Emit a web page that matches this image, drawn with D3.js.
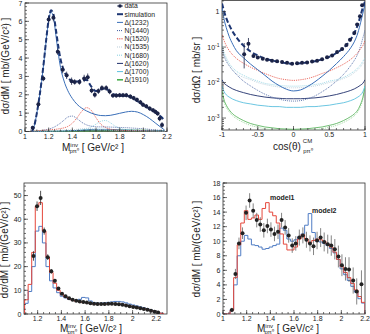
<!DOCTYPE html>
<html>
<head>
<meta charset="utf-8">
<script src="https://cdn.jsdelivr.net/npm/d3@7"></script>
<style>
body { margin: 0; background: #fff; }
svg { display: block; font-family: "Liberation Sans", Arial, sans-serif; }
</style>
</head>
<body>
<svg id="chart" width="370" height="334"></svg>
<script>
// ---------- data: invariant mass spectrum (top left) ----------
var massData = [1.065, 1.113, 1.155, 1.2, 1.24, 1.277, 1.318, 1.352, 1.394, 1.42, 1.46, 1.5, 1.53, 1.563, 1.59, 1.62, 1.65, 1.686, 1.715, 1.743, 1.771, 1.8, 1.828, 1.856, 1.89, 1.918, 1.946, 1.975, 1.997, 2.025, 2.054, 2.082, 2.102, 2.121, 2.138, 2.158];
var sigmaData = [0.21, 1.48, 2.89, 6.1, 6.2, 4.35, 3.37, 3.06, 2.74, 2.7, 2.7, 2.89, 2.96, 2.24, 2.0, 2.2, 2.37, 2.37, 2.18, 1.96, 1.96, 1.98, 1.98, 1.98, 1.9, 1.82, 1.73, 1.6, 1.46, 1.37, 1.25, 1.16, 1.07, 0.98, 0.71, 0.36];
var sigmaErr = [0.1, 0.15, 0.15, 0.2, 0.2, 0.18, 0.2, 0.2, 0.2, 0.15, 0.15, 0.2, 0.2, 0.15, 0.15, 0.15, 0.15, 0.15, 0.15, 0.12, 0.12, 0.12, 0.12, 0.12, 0.12, 0.12, 0.12, 0.12, 0.12, 0.12, 0.12, 0.12, 0.12, 0.12, 0.15, 0.15];

var massGrid = [1.06, 1.08, 1.10, 1.12, 1.14, 1.16, 1.18, 1.20, 1.22, 1.24, 1.26, 1.28, 1.30, 1.33, 1.36, 1.40, 1.44, 1.48, 1.52, 1.56, 1.60, 1.64, 1.68, 1.72, 1.76, 1.80, 1.85, 1.90, 1.95, 2.00, 2.05, 2.10, 2.15, 2.18];
var simMass   = [0, 0.35, 1.0, 1.8, 2.75, 3.85, 5.05, 6.1, 6.6, 6.4, 5.6, 4.7, 3.95, 3.3, 2.95, 2.75, 2.72, 2.8, 2.8, 2.45, 2.2, 2.3, 2.35, 2.15, 2.0, 1.95, 1.95, 1.85, 1.65, 1.45, 1.25, 1.05, 0.8, 0.6];
var d1232Mass = [0, 0.35, 1.0, 1.8, 2.72, 3.8, 5.0, 6.05, 6.5, 6.25, 5.3, 4.3, 3.5, 2.75, 2.25, 1.8, 1.48, 1.27, 1.12, 1.0, 0.92, 0.87, 0.86, 0.88, 0.93, 0.99, 1.06, 1.1, 1.06, 0.92, 0.72, 0.47, 0.22, 0.08];
var n1440Mass = [0, 0.01, 0.02, 0.03, 0.05, 0.07, 0.1, 0.13, 0.17, 0.22, 0.29, 0.37, 0.46, 0.62, 0.78, 0.84, 0.7, 0.5, 0.36, 0.29, 0.26, 0.25, 0.25, 0.24, 0.23, 0.22, 0.21, 0.19, 0.17, 0.15, 0.12, 0.09, 0.06, 0.04];
var n1520Mass = [0, 0.02, 0.04, 0.05, 0.06, 0.07, 0.08, 0.09, 0.1, 0.11, 0.12, 0.14, 0.16, 0.2, 0.27, 0.45, 0.75, 1.1, 1.3, 1.15, 0.75, 0.4, 0.22, 0.13, 0.09, 0.07, 0.05, 0.04, 0.035, 0.03, 0.025, 0.02, 0.015, 0.01];
var n1535Mass = [0, 0, 0.01, 0.01, 0.02, 0.02, 0.03, 0.03, 0.04, 0.04, 0.05, 0.05, 0.06, 0.07, 0.08, 0.1, 0.12, 0.15, 0.17, 0.16, 0.13, 0.1, 0.08, 0.07, 0.06, 0.05, 0.05, 0.04, 0.04, 0.03, 0.03, 0.02, 0.02, 0.01];
var n1680Mass = [0, 0, 0, 0, 0, 0, 0.01, 0.01, 0.01, 0.01, 0.01, 0.02, 0.02, 0.02, 0.03, 0.04, 0.06, 0.09, 0.14, 0.25, 0.4, 0.55, 0.6, 0.48, 0.3, 0.18, 0.11, 0.08, 0.06, 0.05, 0.04, 0.03, 0.02, 0.01];
var d1620Mass = [0, 0, 0, 0, 0, 0.01, 0.01, 0.01, 0.01, 0.01, 0.01, 0.02, 0.02, 0.02, 0.03, 0.04, 0.05, 0.06, 0.07, 0.08, 0.08, 0.08, 0.08, 0.08, 0.08, 0.07, 0.07, 0.06, 0.06, 0.05, 0.04, 0.03, 0.02, 0.01];
var d1700Mass = [0, 0, 0, 0, 0, 0, 0.01, 0.01, 0.01, 0.01, 0.02, 0.02, 0.02, 0.03, 0.04, 0.05, 0.06, 0.08, 0.1, 0.11, 0.12, 0.12, 0.12, 0.11, 0.1, 0.09, 0.08, 0.07, 0.06, 0.05, 0.04, 0.03, 0.02, 0.01];
var d1910Mass = [0, 0, 0, 0, 0, 0, 0, 0, 0, 0, 0, 0, 0, 0, 0.01, 0.01, 0.01, 0.02, 0.02, 0.02, 0.03, 0.03, 0.04, 0.04, 0.05, 0.05, 0.05, 0.05, 0.05, 0.05, 0.04, 0.04, 0.03, 0.02];

// ---------- data: angular distribution (top right) ----------
var cosData = [-0.69, -0.63, -0.56, -0.5, -0.43, -0.37, -0.3, -0.23, -0.16, -0.09, -0.02, 0.05, 0.12, 0.19, 0.26, 0.33, 0.4, 0.47, 0.54, 0.61, 0.68, 0.74, 0.79, 0.85, 0.89, 0.93, 0.96];
var angData = [0.063, 0.124, 0.056, 0.051, 0.047, 0.044, 0.041, 0.04, 0.038, 0.036, 0.034, 0.035, 0.036, 0.037, 0.039, 0.041, 0.045, 0.052, 0.058, 0.072, 0.088, 0.114, 0.16, 0.25, 0.43, 0.74, 1.5];
var angLo = [0.025, 0.09, 0.05, 0.047, 0.044, 0.041, 0.039, 0.038, 0.036, 0.034, 0.032, 0.033, 0.034, 0.035, 0.037, 0.039, 0.042, 0.049, 0.054, 0.067, 0.082, 0.106, 0.15, 0.23, 0.4, 0.68, 1.35];
var angHi = [0.13, 0.18, 0.062, 0.055, 0.05, 0.047, 0.043, 0.042, 0.04, 0.038, 0.036, 0.037, 0.038, 0.039, 0.041, 0.043, 0.048, 0.055, 0.062, 0.077, 0.094, 0.122, 0.17, 0.27, 0.46, 0.8, 1.65];

var cosGrid = [-1, -0.97, -0.94, -0.9, -0.85, -0.8, -0.7, -0.6, -0.5, -0.4, -0.3, -0.2, -0.1, 0, 0.1, 0.2, 0.3, 0.4, 0.5, 0.6, 0.7, 0.8, 0.85, 0.9, 0.94, 0.97, 1];
var simAng   = [1.7, 1.0, 0.65, 0.42, 0.27, 0.19, 0.11, 0.075, 0.058, 0.048, 0.042, 0.038, 0.035, 0.034, 0.035, 0.037, 0.04, 0.045, 0.053, 0.068, 0.095, 0.165, 0.25, 0.43, 0.8, 1.3, 1.9];
var d1232Ang = [1.4, 0.6, 0.35, 0.2, 0.12, 0.08, 0.05, 0.033, 0.023, 0.016, 0.011, 0.0082, 0.0065, 0.0058, 0.0062, 0.0078, 0.0105, 0.015, 0.022, 0.034, 0.054, 0.095, 0.14, 0.25, 0.5, 0.9, 1.6];
var n1520Ang = [0.22, 0.15, 0.11, 0.08, 0.06, 0.048, 0.035, 0.027, 0.022, 0.018, 0.015, 0.013, 0.012, 0.0115, 0.012, 0.013, 0.015, 0.018, 0.021, 0.026, 0.033, 0.045, 0.055, 0.07, 0.09, 0.11, 0.15];
var n1680Ang = [0.12, 0.07, 0.05, 0.035, 0.026, 0.021, 0.016, 0.013, 0.011, 0.0095, 0.0088, 0.0083, 0.008, 0.0079, 0.008, 0.0083, 0.0088, 0.0095, 0.011, 0.012, 0.014, 0.018, 0.021, 0.026, 0.032, 0.04, 0.05];
var n1535Ang = [0.1, 0.06, 0.042, 0.03, 0.022, 0.018, 0.014, 0.012, 0.01, 0.0088, 0.008, 0.0075, 0.0072, 0.0071, 0.0072, 0.0075, 0.008, 0.0088, 0.01, 0.011, 0.013, 0.016, 0.019, 0.023, 0.028, 0.034, 0.042];
var n1440Ang = [0.09, 0.055, 0.04, 0.03, 0.022, 0.017, 0.011, 0.008, 0.006, 0.0047, 0.0039, 0.0034, 0.0031, 0.003, 0.0031, 0.0035, 0.0042, 0.0055, 0.0075, 0.011, 0.017, 0.03, 0.042, 0.065, 0.11, 0.18, 0.3];
var d1620Ang = [0.012, 0.0095, 0.0085, 0.0075, 0.0066, 0.006, 0.0052, 0.0046, 0.0042, 0.0039, 0.0037, 0.0036, 0.0035, 0.0035, 0.0035, 0.0036, 0.0037, 0.0039, 0.0042, 0.0046, 0.0052, 0.006, 0.0066, 0.0075, 0.0085, 0.0095, 0.012];
var d1700Ang = [0.008, 0.0055, 0.0045, 0.0039, 0.0034, 0.0031, 0.0027, 0.0025, 0.0023, 0.0022, 0.0021, 0.0021, 0.002, 0.002, 0.002, 0.0021, 0.0021, 0.0022, 0.0023, 0.0025, 0.0027, 0.0031, 0.0034, 0.0039, 0.0045, 0.0055, 0.008];
var d1910Ang = [0.006, 0.0032, 0.0023, 0.0017, 0.0013, 0.0011, 0.00085, 0.0007, 0.00062, 0.00056, 0.00053, 0.0005, 0.00049, 0.00048, 0.00049, 0.0005, 0.00053, 0.00056, 0.00062, 0.0007, 0.00085, 0.0011, 0.0013, 0.0017, 0.0025, 0.0038, 0.008];
var d1910bAng = [0.0053, 0.0028, 0.002, 0.0015, 0.00115, 0.00097, 0.00075, 0.00062, 0.00055, 0.0005, 0.00047, 0.00044, 0.00043, 0.00042, 0.00043, 0.00044, 0.00047, 0.0005, 0.00055, 0.00062, 0.00075, 0.00097, 0.00115, 0.0015, 0.0022, 0.0034, 0.0072];

// ---------- data: histograms (bottom left), bins of 0.03 from 1.09 ----------
var bin3Start = 1.09, binWidth = 0.03;
var red3  = [6, 12.5, 26, 45.5, 47, 35, 24, 17.5, 13, 10, 8.3, 7.2, 6.4, 5.8, 5.4, 5.1, 4.9, 4.7, 4.4, 4.2, 4.1, 4.1, 4.1, 4.2, 4.3, 4.3, 4.2, 4.0, 3.7, 3.4, 3.1, 2.8, 2.5, 2.2, 1.9, 1.5, 1.1, 0.7, 0.3];
var blue3 = [4.5, 9.5, 20, 35, 37, 30, 20, 14, 11, 9, 7.5, 6.8, 6.2, 5.8, 5.7, 6.2, 7.0, 6.8, 5.5, 4.8, 4.6, 4.6, 4.7, 4.9, 5.1, 5.3, 5.3, 5.1, 4.7, 4.2, 3.8, 3.4, 3.0, 2.6, 2.2, 1.7, 1.2, 0.7, 0.3];
var mass3 = [1.165, 1.195, 1.225, 1.255, 1.285, 1.315, 1.345, 1.375, 1.405, 1.435, 1.465, 1.495, 1.525, 1.555, 1.585, 1.615, 1.645, 1.675, 1.705, 1.735, 1.765, 1.795, 1.825, 1.855, 1.885, 1.915, 1.945, 1.975, 2.005, 2.035, 2.065, 2.095, 2.125, 2.155, 2.185, 2.215];
var data3 = [24.5, 45.5, 49, 35, 24, 18, 14, 10.8, 8.6, 7.5, 6.6, 6, 5.6, 5.3, 5.1, 4.9, 4.5, 4.3, 4.2, 4.2, 4.2, 4.3, 4.3, 4.2, 4.1, 3.9, 3.6, 3.3, 3.0, 2.7, 2.4, 2.1, 1.8, 1.4, 1.0, 0.6];
var err3  = [2, 2, 3, 1.5, 1.2, 1, 0.8, 0.6, 0.5, 0.4, 0.4, 0.3, 0.3, 0.3, 0.3, 0.3, 0.3, 0.3, 0.3, 0.3, 0.3, 0.3, 0.3, 0.3, 0.3, 0.3, 0.3, 0.3, 0.3, 0.3, 0.3, 0.3, 0.3, 0.3, 0.3, 0.3];

// ---------- data: models (bottom right), bins of 0.03 from 1.00 ----------
var bin4Start = 1.0;
var model1 = [0, 0, 0.5, 5, 9.5, 12.5, 14.2, 13, 13.2, 13.6, 13, 14.5, 15.3, 14, 13.5, 12.5, 11, 9.6, 8.8, 8.8, 9.2, 10.3, 10.9, 10.3, 9.8, 10.1, 10.3, 10.2, 10, 9.6, 9.2, 8.5, 7.5, 6.5, 5.7, 5, 4.2, 3.3, 2.4, 1.6];
var model2 = [0, 0, 0.6, 4, 8, 10, 10.8, 10.3, 9.5, 9.4, 9.2, 8.9, 9.0, 9.2, 9.4, 9.6, 11.8, 11.5, 10.3, 10.0, 10.2, 10.6, 11.0, 12.2, 13.8, 11.2, 10.0, 9.9, 9.7, 9.4, 9.0, 8.4, 7.5, 6.2, 5.4, 4.6, 3.8, 3.0, 2.1, 1.5];
var mass4 = [1.075, 1.105, 1.135, 1.165, 1.195, 1.225, 1.255, 1.285, 1.315, 1.345, 1.375, 1.405, 1.435, 1.465, 1.495, 1.525, 1.555, 1.585, 1.615, 1.645, 1.675, 1.705, 1.735, 1.765, 1.795, 1.825, 1.855, 1.885, 1.915, 1.945, 1.975, 2.005, 2.035, 2.065, 2.1, 2.13, 2.17];
var data4 = [0.55, 5.5, 9.7, 11.1, 13.9, 15.6, 14.2, 12.9, 12.3, 11.5, 12.1, 11.6, 11.0, 11.3, 12.9, 11.9, 10.8, 9.4, 9.7, 10.5, 10.8, 10.2, 9.7, 9.3, 10.1, 10.5, 9.9, 9.6, 9.4, 8.9, 7.9, 6.7, 6.2, 6.1, 4.6, 3.1, 4.1];
var err4  = [0.3, 0.7, 0.8, 0.8, 1, 1, 1, 1, 1, 1, 1, 1, 1, 1, 1, 1, 1, 1, 1, 1.1, 1.1, 1.1, 1.1, 1.2, 1.2, 1.3, 1.3, 1.3, 1.4, 1.4, 1.5, 1.5, 1.6, 1.7, 1.8, 1.8, 1.9];

// ---------- layout ----------
var svg = d3.select("#chart");
var P1 = {l: 25, r: 167, t: 3, b: 131.5};
var P2 = {l: 222, r: 365, t: 0.5, b: 130};
var P3 = {l: 24, r: 167, t: 183, b: 314};
var P4 = {l: 223, r: 365, t: 183, b: 314};

var x1 = d3.scaleLinear().domain([1, 2.2]).range([P1.l, P1.r]);
var y1 = d3.scaleLinear().domain([0, 7]).range([P1.b, P1.t]);
var x2 = d3.scaleLinear().domain([-1, 1]).range([P2.l, P2.r]);
var y2 = d3.scaleLog().domain([4.6e-4, 2.05]).range([P2.b, P2.t]);
var x3 = d3.scaleLinear().domain([1.085, 2.29]).range([P3.l, P3.r]);
var y3 = d3.scaleLinear().domain([0, 55.3]).range([P3.b, P3.t]);
var x4 = d3.scaleLinear().domain([1, 2.2]).range([P4.l, P4.r]);
var y4 = d3.scaleLinear().domain([0, 18]).range([P4.b, P4.t]);

var navy = "#1d3673", blue = "#3a6fb8", red = "#e5473b";

function fmt(d) { return String(+d.toFixed(2)); }

// frame + clipped drawing group
function makeFrame(box, id) {
  svg.append("clipPath").attr("id", id).append("rect")
      .attr("x", box.l).attr("y", box.t)
      .attr("width", box.r - box.l).attr("height", box.b - box.t);
  svg.append("rect")
      .attr("x", box.l).attr("y", box.t)
      .attr("width", box.r - box.l).attr("height", box.b - box.t)
      .attr("fill", "none").attr("stroke", "#333").attr("stroke-width", 0.8);
  return svg.append("g").attr("clip-path", "url(#" + id + ")");
}

// ticks drawn inside the frame, ROOT style
function xTicks(box, x, majors, minors) {
  var g = svg.append("g").attr("stroke", "#333").attr("stroke-width", 0.7);
  g.selectAll(".mn").data(minors).enter().append("line")
      .attr("x1", function(d) { return x(d); }).attr("x2", function(d) { return x(d); })
      .attr("y1", box.b).attr("y2", box.b - 2);
  g.selectAll(".mj").data(majors).enter().append("line")
      .attr("x1", function(d) { return x(d); }).attr("x2", function(d) { return x(d); })
      .attr("y1", box.b).attr("y2", box.b - 4);
  svg.append("g").selectAll("text").data(majors).enter().append("text")
      .attr("x", function(d) { return x(d); })
      .attr("y", box.b + 7)
      .attr("text-anchor", "middle")
      .attr("font-size", 7).attr("fill", "#222")
      .text(fmt);
}

function yTicks(box, y, majors, minors) {
  var g = svg.append("g").attr("stroke", "#333").attr("stroke-width", 0.7);
  g.selectAll(".mn").data(minors).enter().append("line")
      .attr("y1", function(d) { return y(d); }).attr("y2", function(d) { return y(d); })
      .attr("x1", box.l).attr("x2", box.l + 2);
  g.selectAll(".mj").data(majors).enter().append("line")
      .attr("y1", function(d) { return y(d); }).attr("y2", function(d) { return y(d); })
      .attr("x1", box.l).attr("x2", box.l + 4);
  svg.append("g").selectAll("text").data(majors).enter().append("text")
      .attr("x", box.l - 2.5)
      .attr("y", function(d) { return y(d) + 2.5; })
      .attr("text-anchor", "end")
      .attr("font-size", 7).attr("fill", "#222")
      .text(fmt);
}

function range(a, b, s) { return d3.range(a, b + s / 1000, s); }

function yTitle(x, y, txt) {
  svg.append("text")
      .attr("transform", "translate(" + x + "," + y + ") rotate(-90)")
      .attr("text-anchor", "middle")
      .attr("font-size", 10).attr("fill", "#222")
      .text(txt);
}

function massTitle(x, y) {
  var t = svg.append("text").attr("x", x).attr("y", y).attr("font-size", 10).attr("fill", "#222");
  t.append("tspan").text("M");
  t.append("tspan").attr("font-size", 6).attr("dy", -4.5).text("inv");
  t.append("tspan").attr("font-size", 6).attr("dx", -8.5).attr("dy", 6.5).text("pπ⁰");
  t.append("tspan").attr("dy", -2).text(" [ GeV/c² ]");
}

function curve(g, xs, ys, x, y, color, width, dash) {
  var line = d3.line()
      .x(function(d, i) { return x(xs[i]); })
      .y(function(d) { return y(d); })
      .curve(d3.curveMonotoneX);
  g.append("path").attr("d", line(ys))
      .attr("fill", "none").attr("stroke", color)
      .attr("stroke-width", width).attr("stroke-dasharray", dash || null);
}

function hist(g, start, vals, x, y, color) {
  var pts = [[start, 0]];
  vals.forEach(function(v, i) { pts.push([start + i * binWidth, v]); });
  pts.push([start + vals.length * binWidth, vals[vals.length - 1]]);
  pts.push([start + vals.length * binWidth, 0]);
  var line = d3.line()
      .x(function(d) { return x(d[0]); })
      .y(function(d) { return y(d[1]); })
      .curve(d3.curveStepAfter);
  g.append("path").attr("d", line(pts))
      .attr("fill", "none").attr("stroke", color).attr("stroke-width", 1);
}

function points(g, xs, ys, lo, hi, x, y, color, ecolor, r) {
  g.selectAll(null).data(ys).enter().append("line")
      .attr("x1", function(d, i) { return x(xs[i]); })
      .attr("x2", function(d, i) { return x(xs[i]); })
      .attr("y1", function(d, i) { return y(lo[i]); })
      .attr("y2", function(d, i) { return y(hi[i]); })
      .attr("stroke", ecolor).attr("stroke-width", 0.8);
  g.selectAll(null).data(ys).enter().append("circle")
      .attr("cx", function(d, i) { return x(xs[i]); })
      .attr("cy", function(d) { return y(d); })
      .attr("r", r).attr("fill", color);
}

// ================= panel 1: mass spectrum =================
var g1 = makeFrame(P1, "c1");
var comps1 = [
  {vals: d1910Mass, color: "#4caf50", w: 1.6, dash: null, label: "Δ(1910)"},
  {vals: d1700Mass, color: "#5bc0de", w: 0.8, dash: null, label: "Δ(1700)"},
  {vals: d1620Mass, color: "#1f2f6b", w: 0.8, dash: null, label: "Δ(1620)"},
  {vals: n1680Mass, color: "#86cfe0", w: 0.8, dash: "1,1", label: "N(1680)"},
  {vals: n1535Mass, color: "#b7cbd8", w: 0.8, dash: "1,1", label: "N(1535)"},
  {vals: n1520Mass, color: red, w: 0.8, dash: "1.2,1", label: "N(1520)"},
  {vals: n1440Mass, color: "#3d5a9e", w: 0.8, dash: "1,1", label: "N(1440)"},
  {vals: d1232Mass, color: blue, w: 1, dash: null, label: "Δ(1232)"}
];
comps1.forEach(function(c) { curve(g1, massGrid, c.vals, x1, y1, c.color, c.w, c.dash); });
curve(g1, massGrid, simMass, x1, y1, navy, 2, "5,2.5");
points(g1, massData, sigmaData,
    sigmaData.map(function(v, i) { return v - sigmaErr[i]; }),
    sigmaData.map(function(v, i) { return v + sigmaErr[i]; }),
    x1, y1, "#1b2347", "#1b2347", 2);

xTicks(P1, x1, range(1, 2.2, 0.2), range(1, 2.2, 0.05));
yTicks(P1, y1, range(0, 7, 1), range(0, 7, 0.2));
yTitle(9, 66, "dσ/dM [ mb/(GeV/c²) ]");
massTitle(62, 151);

// legend
var legend = [
  {label: "data", type: "pt"},
  {label: "simulation", color: navy, w: 2, dash: null}
].concat(comps1.slice().reverse().map(function(c) {
  return {label: c.label, color: c.color, w: c.w, dash: c.dash};
}));
var lg = svg.append("g").attr("transform", "translate(116,6)");
var rows = lg.selectAll("g").data(legend).enter().append("g")
    .attr("transform", function(d, i) { return "translate(0," + (i * 8.2) + ")"; });
rows.each(function(d) {
  var row = d3.select(this);
  if (d.type === "pt") {
    row.append("line").attr("x1", 1).attr("x2", 7).attr("y1", 0).attr("y2", 0)
        .attr("stroke", "#1b2347").attr("stroke-width", 0.8);
    row.append("circle").attr("cx", 4).attr("cy", 0).attr("r", 1.8).attr("fill", "#1b2347");
  } else {
    row.append("line").attr("x1", 1).attr("x2", 7).attr("y1", 0).attr("y2", 0)
        .attr("stroke", d.color).attr("stroke-width", Math.max(d.w, 1))
        .attr("stroke-dasharray", d.dash);
  }
  row.append("text").attr("x", 8.5).attr("y", 2.4)
      .attr("font-size", 6.8).attr("fill", "#222").text(d.label);
});

// ================= panel 2: angular distribution =================
var g2 = makeFrame(P2, "c2");
curve(g2, cosGrid, d1910bAng, x2, y2, "#8fd18f", 0.8, "1,1");
curve(g2, cosGrid, d1910Ang, x2, y2, "#4caf50", 0.8);
curve(g2, cosGrid, d1700Ang, x2, y2, "#5bc0de", 0.9);
curve(g2, cosGrid, d1620Ang, x2, y2, "#1f2f6b", 0.9);
curve(g2, cosGrid, n1440Ang, x2, y2, "#3d5a9e", 0.8, "1,1");
curve(g2, cosGrid, n1535Ang, x2, y2, "#b7cbd8", 0.8, "1,1");
curve(g2, cosGrid, n1680Ang, x2, y2, "#86cfe0", 0.8, "1,1");
curve(g2, cosGrid, n1520Ang, x2, y2, red, 0.8, "1.2,1");
curve(g2, cosGrid, d1232Ang, x2, y2, blue, 1);
curve(g2, cosGrid, simAng, x2, y2, navy, 2, "5,2.5");
points(g2, cosData, angData, angLo, angHi, x2, y2, "#1b2347", "#1b2347", 2);

xTicks(P2, x2, range(-1, 1, 0.5), range(-1, 1, 0.1));
// log axis
var logMajors = [1e-3, 1e-2, 1e-1, 1];
var logMinors = [];
[-4, -3, -2, -1, 0].forEach(function(e) {
  d3.range(2, 10).forEach(function(k) {
    var v = k * Math.pow(10, e);
    if (v >= y2.domain()[0] && v <= y2.domain()[1]) logMinors.push(v);
  });
});
var lgT = svg.append("g").attr("stroke", "#333").attr("stroke-width", 0.7);
lgT.selectAll(".mn").data(logMinors).enter().append("line")
    .attr("y1", function(d) { return y2(d); }).attr("y2", function(d) { return y2(d); })
    .attr("x1", P2.l).attr("x2", P2.l + 2);
lgT.selectAll(".mj").data(logMajors).enter().append("line")
    .attr("y1", function(d) { return y2(d); }).attr("y2", function(d) { return y2(d); })
    .attr("x1", P2.l).attr("x2", P2.l + 4);
var logLab = svg.append("g").selectAll("text").data(logMajors).enter().append("text")
    .attr("x", P2.l - 2.5)
    .attr("y", function(d) { return y2(d) + 2.5; })
    .attr("text-anchor", "end")
    .attr("font-size", 7).attr("fill", "#222");
logLab.each(function(d) {
  var t = d3.select(this);
  if (d === 1) { t.text("1"); return; }
  t.append("tspan").text("10");
  t.append("tspan").attr("dy", -3).attr("font-size", 5).text(String(Math.round(Math.log10(d))));
});
yTitle(200, 70, "dσ/dΩ [ mb/sr ]");
var ct = svg.append("text").attr("x", 273).attr("y", 150).attr("font-size", 10).attr("fill", "#222");
ct.append("tspan").text("cos(θ)");
ct.append("tspan").attr("dx", 2).attr("dy", -7).attr("font-size", 6).text("CM");
ct.append("tspan").attr("dx", -9).attr("dy", 10).attr("font-size", 6).text("pπ⁰");

// ================= panel 3: histograms =================
var g3 = makeFrame(P3, "c3");
hist(g3, bin3Start, blue3, x3, y3, "#4f7cc4");
hist(g3, bin3Start, red3, x3, y3, red);
points(g3, mass3, data3,
    data3.map(function(v, i) { return v - err3[i]; }),
    data3.map(function(v, i) { return v + err3[i]; }),
    x3, y3, "#222", "#222", 2);
xTicks(P3, x3, range(1.2, 2.2, 0.2), range(1.1, 2.28, 0.05));
yTicks(P3, y3, range(0, 50, 10), range(0, 55, 2));
yTitle(8, 250, "dσ/dM [ mb/(GeV/c²) ]");
massTitle(60, 332);

// ================= panel 4: model comparison =================
var g4 = makeFrame(P4, "c4");
hist(g4, bin4Start, model2, x4, y4, "#4f7cc4");
hist(g4, bin4Start, model1, x4, y4, red);
points(g4, mass4, data4,
    data4.map(function(v, i) { return v - err4[i]; }),
    data4.map(function(v, i) { return v + err4[i]; }),
    x4, y4, "#222", "#666", 2);
xTicks(P4, x4, range(1, 2.2, 0.2), range(1, 2.2, 0.05));
yTicks(P4, y4, range(0, 18, 2), range(0, 18, 0.5));
yTitle(200, 249, "dσ/dM [ mb/(GeV/c²) ]");
massTitle(257, 332);

svg.append("text").attr("x", 270).attr("y", 200)
    .attr("font-size", 7).attr("font-weight", "bold").attr("fill", "#222").text("model1");
svg.append("text").attr("x", 312).attr("y", 213)
    .attr("font-size", 7).attr("font-weight", "bold").attr("fill", "#222").text("model2");
</script>
</body>
</html>
